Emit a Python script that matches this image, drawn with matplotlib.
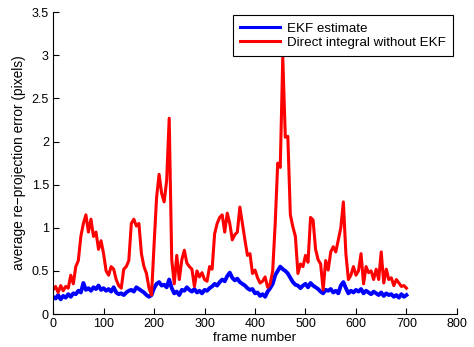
import numpy as np
import matplotlib
matplotlib.use('Agg')
import matplotlib.pyplot as plt

plt.rcParams['font.family'] = ['Liberation Sans', 'DejaVu Sans']
plt.rcParams['font.size'] = 9

# frames sampled every 5 frames
frames = list(range(0, 701, 5))

# EKF estimate (blue)
ekf_error = [
    0.20, 0.18, 0.22, 0.17, 0.21, 0.19, 0.23, 0.20, 0.24, 0.23,
    0.27, 0.25, 0.36, 0.28, 0.30, 0.27, 0.31, 0.29, 0.33, 0.28,
    0.30, 0.27, 0.29, 0.26, 0.31, 0.25, 0.23, 0.24, 0.22, 0.25,
    0.27, 0.28, 0.26, 0.31, 0.29, 0.27, 0.25, 0.22, 0.20, 0.22,
    0.30, 0.35, 0.37, 0.33, 0.34, 0.31, 0.40, 0.30, 0.24, 0.26,
    0.22, 0.28, 0.27, 0.31, 0.28, 0.26, 0.29, 0.25, 0.27, 0.24,
    0.28, 0.27, 0.30, 0.32, 0.35, 0.33, 0.37, 0.40, 0.38, 0.44,
    0.48, 0.42, 0.39, 0.41, 0.37, 0.35, 0.33, 0.30, 0.28, 0.29,
    0.24, 0.25, 0.21, 0.23, 0.20, 0.26, 0.30, 0.35, 0.45, 0.50,
    0.55, 0.52, 0.50, 0.47, 0.42, 0.37, 0.34, 0.33, 0.30, 0.33,
    0.35, 0.31, 0.36, 0.33, 0.31, 0.29, 0.26, 0.24, 0.28, 0.27,
    0.29, 0.25, 0.27, 0.24, 0.33, 0.37, 0.30, 0.24, 0.27, 0.25,
    0.28, 0.26, 0.29, 0.24, 0.27, 0.25, 0.23, 0.26, 0.24, 0.22,
    0.25, 0.21, 0.24, 0.22, 0.23, 0.20, 0.22, 0.19, 0.23, 0.20,
    0.22,
]

# direct integral without EKF (red)
direct_error = [
    0.28, 0.32, 0.25, 0.33, 0.27, 0.32, 0.30, 0.45, 0.35, 0.55,
    0.62, 0.90, 1.05, 1.15, 0.95, 1.10, 0.90, 0.95, 0.75, 0.85,
    0.70, 0.50, 0.45, 0.55, 0.52, 0.40, 0.33, 0.30, 0.52, 0.55,
    0.62, 1.05, 1.10, 1.02, 1.05, 0.70, 0.55, 0.47, 0.30, 0.22,
    0.80, 1.35, 1.62, 1.40, 1.30, 1.55, 2.27, 0.63, 0.35, 0.68,
    0.40, 0.63, 0.74, 0.59, 0.55, 0.52, 0.32, 0.50, 0.43, 0.48,
    0.40, 0.38, 0.55, 0.52, 0.93, 1.05, 1.12, 1.15, 0.95, 1.17,
    1.05, 0.86, 0.92, 0.95, 1.24, 1.05, 0.86, 0.68, 0.70, 0.47,
    0.51, 0.42, 0.36, 0.38, 0.43, 0.31, 0.35, 0.50, 1.05, 1.75,
    1.70, 2.98, 2.05, 2.06, 1.15, 1.01, 0.90, 0.47, 0.58, 0.55,
    0.68, 0.60, 1.12, 1.09, 0.75, 0.63, 0.58, 0.28, 0.62, 0.51,
    0.72, 0.78, 0.72, 0.86, 1.00, 1.30, 0.70, 0.40, 0.45, 0.55,
    0.45, 0.50, 0.70, 0.35, 0.55, 0.48, 0.50, 0.40, 0.52, 0.40,
    0.72, 0.36, 0.52, 0.40, 0.42, 0.33, 0.40, 0.36, 0.32, 0.33,
    0.30,
]

y_ticks = [0, 0.5, 1, 1.5, 2, 2.5, 3, 3.5]
y_tick_labels = ['0', '0.5', '1', '1.5', '2', '2.5', '3', '3.5']
x_ticks = [0, 100, 200, 300, 400, 500, 600, 700, 800]

fig = plt.figure(figsize=(4.74, 3.47), dpi=100)
ax = fig.add_axes([0.112, 0.095, 0.852, 0.870])

# thicker blue to mimic the noisy band in the original
ax.plot(frames, ekf_error, color='#0000ff', lw=2.8, label='EKF estimate')
ax.plot(frames, direct_error, color='#ff0000', lw=2.2, label='Direct integral without EKF')

ax.set_xlim(0, 800)
ax.set_ylim(0, 3.5)
ax.set_xticks(x_ticks)
ax.set_yticks(y_ticks)
ax.set_yticklabels(y_tick_labels)
ax.tick_params(direction='in', length=4, width=0.8, top=False, right=False, pad=3)
ax.spines['top'].set_visible(False)
ax.spines['right'].set_visible(False)

ax.set_xlabel('frame number', fontsize=9.6, labelpad=1)
ax.set_ylabel('average re\u2212projection error (pixels)', fontsize=9.9, labelpad=4)

leg = ax.legend(loc='upper right', bbox_to_anchor=(0.99, 0.99), fancybox=False,
                framealpha=1, edgecolor='black', handlelength=3.0,
                borderpad=0.55, labelspacing=0.15, handletextpad=0.5,
                borderaxespad=0.0, prop={'size': 9.6})
leg.get_frame().set_linewidth(0.8)
for line in leg.get_lines():
    line.set_linewidth(2.2)

plt.savefig('out.png', dpi=100)
